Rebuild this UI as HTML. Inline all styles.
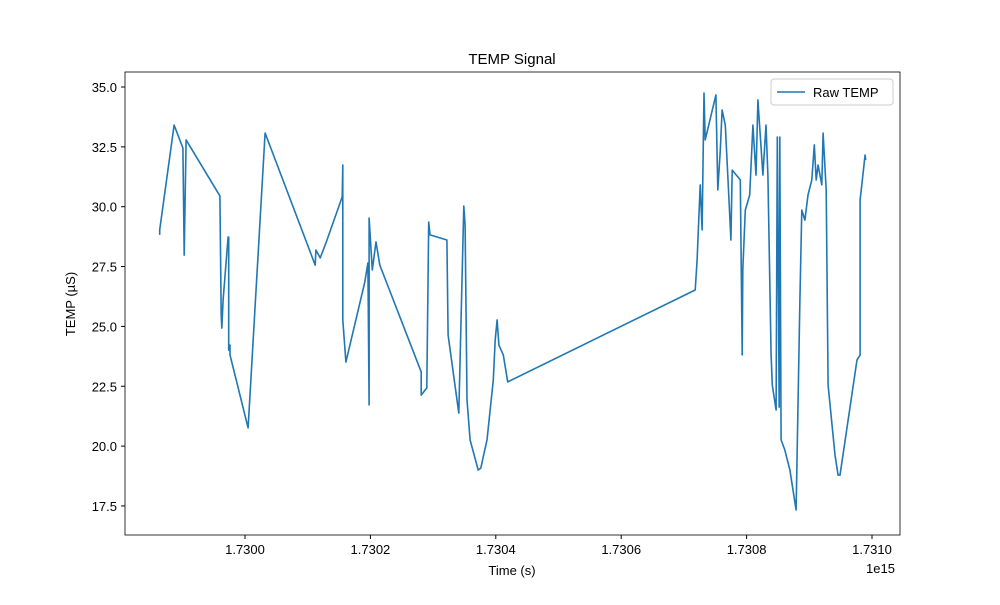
<!DOCTYPE html>
<html><head><meta charset="utf-8"><style>
body{margin:0;background:#fff;font-family:"Liberation Sans",sans-serif;}
svg text{font-family:"Liberation Sans",sans-serif;font-size:13px;fill:#000;}
</style></head><body>
<svg id="chart" width="1000" height="600">
<rect width="1000" height="600" fill="#fff"/>
<text x="512" y="64" text-anchor="middle" style="font-size:15px">TEMP Signal</text>
<g id="yticks"></g>
<g id="xticks"></g>
<path id="line" fill="none" stroke="#1f77b4" stroke-width="1.6" stroke-linejoin="round"/>
<rect x="125" y="72" width="775" height="463" fill="none" stroke="#000" stroke-width="0.8"/>
<text x="512" y="575" text-anchor="middle">Time (s)</text>
<text x="866" y="573">1e15</text>
<text transform="translate(75,304) rotate(-90)" text-anchor="middle">TEMP (µS)</text>
<g>
<rect x="771" y="79" width="122" height="26" rx="3" fill="#fff" stroke="#ccc"/>
<line x1="777" y1="92" x2="805" y2="92" stroke="#1f77b4" stroke-width="1.6"/>
<text x="813" y="97">Raw TEMP</text>
</g>
</svg>
<script>
const xTicks=[1.7300,1.7302,1.7304,1.7306,1.7308,1.7310];
const yTicks=[17.5,20.0,22.5,25.0,27.5,30.0,32.5,35.0];
const times=[1.729864,1.729864,1.729887,1.729901,1.729903,1.729906,1.729960,1.729962,1.729963,1.729965,1.729973,1.729974,1.729974,1.729976,1.729976,1.730005,1.730032,1.730112,1.730113,1.730120,1.730129,1.730155,1.730156,1.730156,1.730161,1.730191,1.730196,1.730198,1.730198,1.730203,1.730209,1.730215,1.730281,1.730281,1.730290,1.730293,1.730295,1.730322,1.730324,1.730341,1.730349,1.730351,1.730354,1.730359,1.730372,1.730376,1.730386,1.730396,1.730399,1.730402,1.730405,1.730412,1.730419,1.730718,1.730721,1.730726,1.730729,1.730732,1.730734,1.730751,1.730754,1.730758,1.730761,1.730766,1.730772,1.730775,1.730777,1.730790,1.730793,1.730794,1.730798,1.730805,1.730810,1.730815,1.730818,1.730826,1.730831,1.730834,1.730839,1.730841,1.730847,1.730849,1.730852,1.730853,1.730855,1.730861,1.730869,1.730879,1.730885,1.730888,1.730893,1.730898,1.730904,1.730908,1.730911,1.730914,1.730920,1.730922,1.730927,1.730930,1.730941,1.730946,1.730949,1.730976,1.730981,1.730981,1.730989,1.730990];
const temps=[28.82,29.03,33.41,32.45,27.98,32.79,30.45,25.48,24.93,26.10,28.73,28.73,24.01,24.22,23.81,20.76,33.08,27.56,28.19,27.86,28.48,30.41,31.74,25.27,23.51,26.85,27.65,21.72,29.53,27.36,28.53,27.56,23.10,22.13,22.43,29.36,28.82,28.61,24.64,21.38,30.03,29.24,21.93,20.26,19.00,19.08,20.26,22.76,24.43,25.27,24.22,23.81,22.68,26.52,27.77,30.91,29.03,34.75,32.79,34.67,30.70,32.37,34.04,33.41,30.28,28.61,31.53,31.12,23.81,27.36,29.86,30.49,33.41,31.32,34.46,31.32,33.41,31.32,23.81,22.55,21.51,32.91,21.63,32.91,20.26,19.84,19.00,17.33,26.10,29.86,29.44,30.49,31.12,32.58,31.12,31.74,30.91,33.08,30.70,22.55,19.63,18.79,18.79,23.60,23.81,30.28,32.16,31.95];
const X=v=>245+(v-1.73)/0.001*627;
const Y=v=>87+(35-v)*23.94;
const ns="http://www.w3.org/2000/svg";
const yg=document.getElementById('yticks'),xg=document.getElementById('xticks');
yTicks.forEach(t=>{const y=Y(t);
const l=document.createElementNS(ns,'line');l.setAttribute('x1',121);l.setAttribute('x2',125);l.setAttribute('y1',y);l.setAttribute('y2',y);l.setAttribute('stroke','#000');

yg.appendChild(l);
const tx=document.createElementNS(ns,'text');tx.setAttribute('x',117);tx.setAttribute('y',y+5);tx.setAttribute('text-anchor','end');tx.textContent=t.toFixed(1);

yg.appendChild(tx);});
xTicks.forEach(t=>{const x=X(t);
const l=document.createElementNS(ns,'line');l.setAttribute('x1',x);l.setAttribute('x2',x);l.setAttribute('y1',535);l.setAttribute('y2',539);l.setAttribute('stroke','#000');

xg.appendChild(l);
const tx=document.createElementNS(ns,'text');tx.setAttribute('x',x);tx.setAttribute('y',554);tx.setAttribute('text-anchor','middle');tx.textContent=t.toFixed(4);

xg.appendChild(tx);});
document.getElementById('line').setAttribute('d',times.map((t,i)=>(i?'L':'M')+X(t).toFixed(1)+','+Y(temps[i]).toFixed(1)).join(''));
</script>
</body></html>
